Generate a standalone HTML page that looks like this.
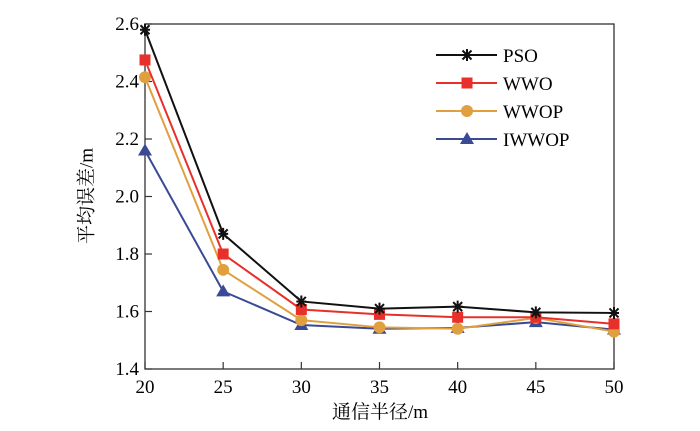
<!DOCTYPE html>
<html><head><meta charset="utf-8">
<style>
html,body{margin:0;padding:0;background:#fff;}
svg{display:block;font-family:"Liberation Serif","Noto Serif CJK SC",serif;}
</style></head>
<body>
<svg id="chart" width="700" height="431" viewBox="0 0 700 431">
  <rect x="145" y="24" width="469" height="345" fill="none" stroke="#333" stroke-width="1.3"/>
  <g id="ticks"></g>
  <g id="series"></g>
  <g id="legend"></g>
  <text x="88" y="196" font-size="19" text-anchor="middle" dominant-baseline="middle" transform="rotate(-90 88 196)">平均误差/m</text>
  <text x="380" y="418" font-size="19" text-anchor="middle">通信半径/m</text>
</svg>
<script>
const categories = [20, 25, 30, 35, 40, 45, 50];
const yTicks = [1.4, 1.6, 1.8, 2.0, 2.2, 2.4, 2.6];
const yTickLabels = ["1.4", "1.6", "1.8", "2.0", "2.2", "2.4", "2.6"];
const psoValues = [2.58, 1.87, 1.635, 1.61, 1.617, 1.597, 1.595];
const wwoValues = [2.475, 1.80, 1.607, 1.59, 1.58, 1.58, 1.557];
const wwopValues = [2.415, 1.745, 1.57, 1.545, 1.54, 1.578, 1.53];
const iwwopValues = [2.16, 1.67, 1.553, 1.54, 1.543, 1.563, 1.537];
const seriesNames = ["PSO", "WWO", "WWOP", "IWWOP"];

const NS = "http://www.w3.org/2000/svg";
const L = 145, R = 614, T = 24, B = 369;
function xs(v){ return L + (v - 20) / 30 * (R - L); }
function ys(v){ return B - (v - 1.4) / 1.2 * (B - T); }
function mk(tag, attrs, parent){
  const e = document.createElementNS(NS, tag);
  for (const k in attrs) e.setAttribute(k, attrs[k]);
  parent.appendChild(e); return e;
}
const ticks = document.getElementById('ticks');
categories.forEach(c => {
  const x = xs(c);
  const t = mk('line', {x1:x, x2:x, y1:B, y2:B-7, stroke:'#333', 'stroke-width':1.2}, ticks);
  
  
  const lb = mk('text', {x:x, y:B+24, 'font-size':19, 'text-anchor':'middle'}, ticks);
  lb.textContent = c;
  
  
});
yTicks.forEach((v, i) => {
  const y = ys(v);
  const t = mk('line', {x1:L, x2:L+7, y1:y, y2:y, stroke:'#333', 'stroke-width':1.2}, ticks);
  
  
  const lb = mk('text', {x:L-6, y:y+6, 'font-size':19, 'text-anchor':'end'}, ticks);
  lb.textContent = yTickLabels[i];
  
  
});

const colors = ['#111', '#e8302a', '#e0a040', '#3a4a94'];
const shapes = ['star', 'square', 'circle', 'triangle'];
const allValues = [psoValues, wwoValues, wwopValues, iwwopValues];

function marker(g, shape, x, y, color){
  let e;
  if (shape === 'star') {
    e = mk('path', {d:`M${x-5},${y}H${x+5}M${x},${y-6}V${y+6}M${x-4.5},${y-4.5}L${x+4.5},${y+4.5}M${x-4.5},${y+4.5}L${x+4.5},${y-4.5}`, stroke:color, 'stroke-width':2, fill:'none'}, g);
  } else if (shape === 'square') {
    e = mk('rect', {x:x-5.5, y:y-5.5, width:11, height:11, fill:color}, g);
  } else if (shape === 'circle') {
    e = mk('circle', {cx:x, cy:y, r:6, fill:color}, g);
  } else {
    e = mk('polygon', {points:`${x},${y-7} ${x-7},${y+5} ${x+7},${y+5}`, fill:color}, g);
  }
  
  
}

const sg = document.getElementById('series');
[3, 2, 1, 0].forEach(i => {
  const g = mk('g', {}, sg);
  
  
  const pts = allValues[i].map((v, j) => xs(categories[j]) + ',' + ys(v)).join(' ');
  const pl = mk('polyline', {points:pts, fill:'none', stroke:colors[i], 'stroke-width':2}, g);
  
  
  allValues[i].forEach((v, j) => marker(g, shapes[i], xs(categories[j]), ys(v), colors[i]));
});

const lg = document.getElementById('legend');
seriesNames.forEach((n, i) => {
  const y = 55 + i * 28;
  const g = mk('g', {}, lg);
  
  
  mk('line', {x1:436, x2:497, y1:y, y2:y, stroke:colors[i], 'stroke-width':2}, g);
  marker(g, shapes[i], 467, y, colors[i]);
  const t = mk('text', {x:503, y:y+7, 'font-size':19}, g);
  t.textContent = n;
  
  
});
</script>
</body></html>
